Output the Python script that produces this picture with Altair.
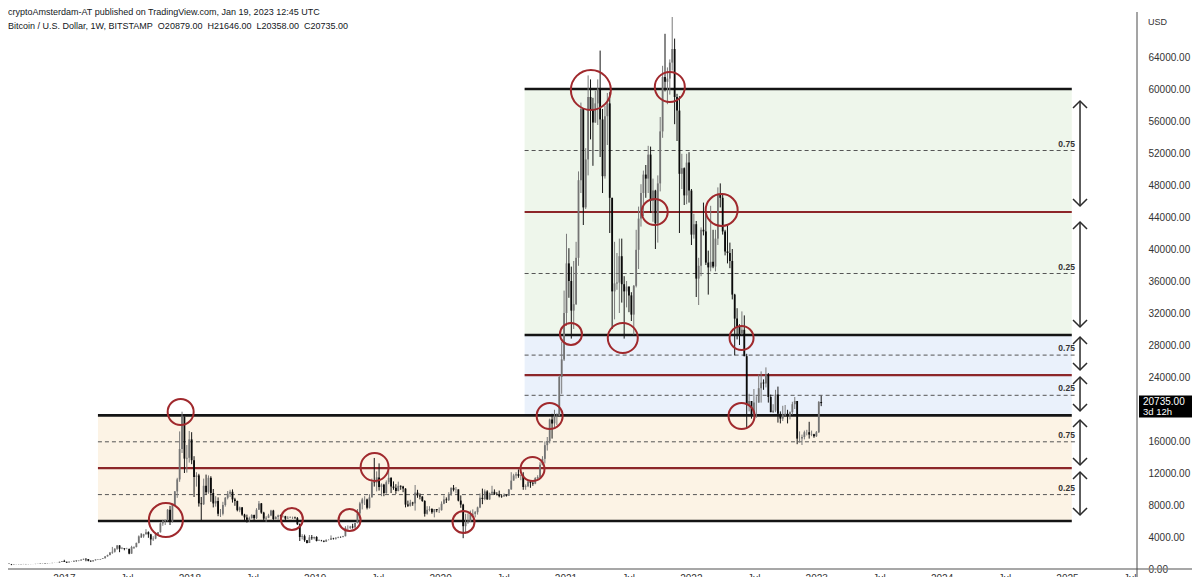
import altair as alt
import pandas as pd
from datetime import date, timedelta

# ---------------- data (weekly BTC/USD candles) ----------------
first_week = "2016-07-18"
first_open = 665

close_2016 = [655, 625, 590, 570, 580, 572, 608, 623, 608, 602, 612, 617, 640, 653, 700, 705, 703, 730, 735, 765, 770, 790, 900, 1000]
high_2016 = [680, 660, 630, 600, 595, 590, 615, 635, 628, 612, 615, 620, 642, 656, 720, 740, 740, 745, 748, 775, 775, 795, 920, 1000]
low_2016 = [645, 620, 480, 565, 565, 565, 570, 605, 600, 592, 598, 606, 615, 630, 650, 680, 690, 700, 720, 730, 750, 765, 790, 895]

close_2017 = [905, 820, 920, 920, 1030, 1000, 1050, 1180, 1270, 1230, 1020, 960, 1090, 1200, 1180, 1250, 1340, 1580, 1740, 2050,
              2150, 2530, 2950, 2530, 2590, 2500, 2510, 1920, 2760, 2740, 3260, 4080, 4070, 4350, 4600, 4330, 3700, 3800, 4340, 4600,
              5700, 6000, 6150, 7400, 5950, 8000, 9700, 11200, 15000, 19000, 13800, 13900]
high_2017 = [1150, 910, 925, 930, 1040, 1065, 1060, 1200, 1290, 1330, 1250, 1080, 1100, 1210, 1220, 1260, 1350, 1600, 1800, 2100,
             2760, 2600, 2980, 2970, 2760, 2600, 2650, 2550, 2900, 2800, 3300, 4200, 4450, 4400, 4980, 4700, 4400, 4100, 4380, 4620,
             5850, 6150, 6150, 7500, 7890, 8000, 9750, 11400, 17200, 19666, 19100, 15500]
low_2017 = [880, 750, 810, 880, 910, 920, 970, 1050, 1130, 970, 960, 890, 920, 1050, 1140, 1170, 1250, 1330, 1540, 1700,
            1900, 2050, 2400, 2100, 2470, 2340, 2470, 1840, 1900, 2550, 2700, 3200, 3900, 3900, 4300, 3900, 2970, 3500, 3720, 4150,
            4550, 5400, 5500, 5950, 5500, 5800, 7900, 8900, 10900, 14500, 12000, 12050]

close_2018 = [16200, 13600, 11500, 11700, 8200, 8100, 10400, 9600, 11400, 9500, 8200, 8500, 6900, 6900, 8000, 8900, 9400, 9650,
              8700, 8500, 7350, 7700, 6800, 6450, 6150, 6350, 6750, 6350, 7400, 8200, 7050, 6300, 6400, 6700, 7300, 6250, 6500,
              6700, 6600, 6600, 6300, 6400, 6450, 6450, 6350, 5600, 4000, 4100, 3600, 3250, 3950, 3850, 4000]
high_2018 = [17250, 17100, 14100, 12100, 11900, 9000, 11300, 11800, 11700, 11600, 10000, 9100, 8950, 7500, 8400, 9000, 9750, 9900,
             9950, 8900, 8550, 7800, 7750, 6900, 6800, 6550, 6850, 6800, 7600, 8500, 8250, 7150, 6600, 6900, 7400, 7400, 6600,
             6800, 6800, 6700, 6650, 6600, 6580, 6550, 6550, 6500, 5700, 4350, 4300, 3620, 4250, 4250, 4050]
low_2018 = [13300, 13100, 9000, 10300, 7800, 6000, 8000, 9300, 9400, 8400, 7700, 7800, 6600, 6500, 6700, 7800, 8700, 9000,
            8300, 7900, 7200, 7100, 6650, 6100, 5800, 5900, 6300, 6100, 6250, 7400, 6900, 5900, 5880, 6350, 6600, 6100, 6200,
            6150, 6250, 6450, 6100, 6300, 6350, 6250, 6300, 5500, 3500, 3700, 3400, 3200, 3250, 3650, 3700]

close_2019 = [3500, 3550, 3530, 3420, 3650, 3650, 3850, 3800, 3920, 4000, 3990, 4100, 5150, 5150, 5300, 5200, 5750, 6950, 8200,
              8700, 8700, 7650, 8950, 10850, 10800, 11450, 10250, 10550, 9500, 10850, 11400, 10300, 10150, 9750, 10400, 10300,
              10050, 8050, 7900, 8300, 8200, 9550, 9200, 9050, 8500, 6900, 7400, 7500, 7100, 7500, 7350, 7350]
high_2019 = [4100, 3700, 3640, 3560, 3700, 3720, 4200, 3900, 3950, 4050, 4070, 4150, 5350, 5450, 5400, 5650, 5800, 7500, 8400,
             8900, 9100, 8800, 9350, 11300, 13880, 12200, 13200, 10700, 10650, 11080, 12300, 11450, 10950, 10600, 10920, 10450,
             10400, 10100, 8550, 8650, 8400, 10500, 9900, 9450, 9100, 8600, 7850, 7850, 7600, 7500, 7500, 7700]
low_2019 = [3450, 3500, 3450, 3350, 3390, 3580, 3650, 3680, 3670, 3850, 3900, 3950, 4080, 4900, 5000, 5050, 5150, 5700, 6700,
            7450, 8000, 7450, 7550, 8950, 10300, 9700, 9800, 9100, 9100, 9400, 10600, 9500, 9900, 9400, 9700, 9900,
            9600, 7700, 7750, 7800, 7900, 7300, 8900, 8700, 8400, 6550, 6800, 7200, 6900, 6450, 7100, 7000]

close_2020 = [8150, 8700, 8600, 9350, 10150, 9900, 9950, 8550, 8050, 5350, 5850, 5900, 6800, 6900, 7100, 7700, 8900, 8750, 9700,
              8700, 9450, 9650, 9350, 9300, 9100, 9050, 9250, 9150, 9950, 11050, 11700, 11850, 11650, 11700, 10250, 10330, 10930,
              10770, 10670, 11370, 11500, 13030, 13770, 15480, 15970, 18680, 18200, 19150, 19150, 24000, 26200, 32000]
high_2020 = [8450, 9200, 8950, 9600, 10200, 10500, 10250, 9950, 9200, 8150, 6900, 6950, 7300, 7450, 7250, 7800, 9450, 10050, 9950,
             9850, 9550, 10400, 9950, 9600, 9800, 9350, 9450, 9350, 10000, 12100, 11900, 12100, 12450, 11800, 12100, 10580, 11150,
             10990, 10950, 11480, 11720, 13350, 14100, 15950, 16500, 18800, 19400, 19900, 19450, 24200, 28400, 34800]
low_2020 = [7300, 8100, 8250, 8500, 9150, 9700, 9450, 8450, 7650, 3850, 4400, 5650, 5900, 6750, 6450, 6800, 7600, 8100, 8600,
            8650, 8650, 9350, 9250, 9200, 8950, 8900, 9050, 9050, 9150, 9900, 11050, 11300, 11400, 11100, 9900, 9900, 10230,
            10150, 10400, 10600, 11200, 11380, 12950, 13200, 14800, 15700, 16300, 17600, 18000, 19100, 21900, 26000]

close_2021 = [38200, 36000, 32300, 33100, 38900, 48600, 57500, 45200, 51200, 59000, 57500, 55800, 58200, 60000, 56200, 49100,
              56600, 58200, 46400, 34700, 35700, 35800, 39100, 35600, 34700, 35300, 34200, 31800, 35400, 39900, 43800, 47000,
              49300, 48800, 51800, 46000, 47300, 43200, 48200, 54700, 61500, 60900, 61300, 63300, 65000, 59000, 57300, 49400,
              50100, 46700, 50800, 47300]
high_2021 = [41900, 40100, 37800, 38500, 40900, 49700, 58300, 57500, 52600, 61700, 61200, 58900, 59800, 61200, 64800, 57500,
             57900, 59500, 59600, 45800, 40900, 39500, 41300, 41300, 36600, 36000, 35300, 34600, 35500, 42400, 45300, 48100,
             49800, 50500, 52900, 52800, 48800, 47400, 49200, 56500, 62900, 66900, 62700, 63700, 69000, 66300, 59400, 59100,
             51900, 50200, 51900, 52100]
low_2021 = [30400, 33900, 28800, 30000, 33000, 37900, 47000, 43000, 45000, 49200, 53700, 50400, 55800, 55500, 51500, 47000,
            48800, 53000, 42000, 30000, 31200, 34900, 32000, 33300, 28800, 32700, 32100, 31000, 29300, 35200, 37500, 42800,
            44100, 46400, 47000, 44500, 43400, 40000, 40800, 47200, 53900, 59700, 58100, 59300, 62300, 55600, 53500, 42000,
            47500, 45500, 45600, 45800]

close_2022 = [41800, 43100, 36300, 37900, 42400, 42200, 38300, 37700, 38400, 37800, 41300, 46800, 46400, 42200, 39700, 39500,
              38500, 34300, 31300, 30300, 29400, 29900, 26600, 20500, 21000, 19300, 20800, 20800, 22600, 23300, 23200, 24300,
              21500, 19600, 19800, 21800, 19400, 18800, 19300, 19400, 19200, 19600, 20600, 21000, 16300, 16300, 16500, 17100,
              17100, 16800, 16850, 16600]
high_2022 = [47500, 44400, 43500, 38900, 42700, 45800, 44500, 39800, 45400, 42400, 42400, 47700, 48200, 47000, 42400, 42900,
             40800, 40000, 34400, 32600, 30600, 32200, 31700, 26900, 21900, 21000, 22500, 21600, 24300, 24700, 23700, 25200,
             24500, 21800, 20600, 22400, 22800, 19700, 20400, 20500, 19900, 19700, 20900, 21500, 21000, 17200, 16800, 17300,
             17400, 18400, 17300, 16900]
low_2022 = [40500, 41300, 34000, 33000, 36600, 41700, 38000, 34300, 37200, 37600, 37200, 40500, 45200, 41800, 39200, 38200,
            37600, 33700, 26700, 28700, 28000, 29300, 26600, 17600, 19700, 18800, 19000, 18900, 20800, 20800, 22400, 22700,
            20800, 19600, 19500, 19600, 18300, 18200, 18500, 19100, 18200, 18700, 19300, 20000, 15600, 15800, 15500, 16200,
            16700, 16300, 16600, 16400]

close_2023 = [17100, 20879, 20735]
high_2023 = [17250, 21000, 21646]
low_2023 = [16500, 17000, 20358]

closes = close_2016 + close_2017 + close_2018 + close_2019 + close_2020 + close_2021 + close_2022 + close_2023
highs = high_2016 + high_2017 + high_2018 + high_2019 + high_2020 + high_2021 + high_2022 + high_2023
lows = low_2016 + low_2017 + low_2018 + low_2019 + low_2020 + low_2021 + low_2022 + low_2023

# support / resistance structure
level_price = [6000, 12600, 19200, 24225, 29250, 44625, 60000]
level_start = ["2017-04-10", "2017-04-10", "2017-04-10", "2020-09-04", "2020-09-04", "2020-09-04", "2020-09-04"]
level_kind = ["main", "mid", "main", "mid", "main", "mid", "main"]
box_low = [6000, 19200, 29250]
box_high = [19200, 29250, 60000]
box_start = ["2017-04-10", "2020-09-04", "2020-09-04"]
box_fill = ["#fcf3e5", "#eaf1fb", "#eef6eb"]
box_end = "2025-01-15"
fib_price = [9300, 15900, 21712, 26737, 36937, 52312]
fib_label = ["0.25", "0.75", "0.25", "0.75", "0.25", "0.75"]
fib_start = ["2017-04-10", "2017-04-10", "2020-09-04", "2020-09-04", "2020-09-04", "2020-09-04"]
fib_end = "2025-01-29"
fib_label_at = "2025-01-24"

circle_date = ["2017-10-25", "2017-12-07", "2018-10-27", "2019-04-13", "2019-06-25", "2020-03-10", "2020-09-27",
               "2020-11-16", "2021-01-17", "2021-03-16", "2021-06-17", "2021-09-18", "2021-11-01", "2022-04-01",
               "2022-05-29", "2022-05-29"]
circle_price = [6125, 19625, 6250, 6125, 12750, 5875, 12500, 19125, 29375, 59875, 28875, 44625, 60250, 44875, 28875, 19125]
circle_radius = [17, 13, 11, 11, 14, 11, 12, 13, 11, 20, 15, 13, 15, 16, 12, 13]

arrow_date = "2025-02-08"
arrow_top = [58500, 43375, 29000, 24000, 18625, 12125]
arrow_bottom = [45375, 30250, 24875, 19750, 13000, 6750]

y_ticks = [0, 4000, 8000, 12000, 16000, 24000, 28000, 32000, 36000, 40000, 44000, 48000, 52000, 56000, 60000, 64000]
x_tick_years = [2017, 2018, 2019, 2020, 2021, 2022, 2023, 2024, 2025]
last_price = [20735]
last_price_note = ["3d 12h"]

header_1 = "cryptoAmsterdam-AT published on TradingView.com, Jan 19, 2023 12:45 UTC"
header_2 = "Bitcoin / U.S. Dollar, 1W, BITSTAMP\u00a0\u00a0O20879.00\u00a0\u00a0H21646.00\u00a0\u00a0L20358.00\u00a0\u00a0C20735.00"

# ---------------- build tables ----------------
def yr(d):
    if isinstance(d, str):
        d = date.fromisoformat(d)
    return 2017 + (d - date(2017, 1, 1)).days / 365.25

start = date.fromisoformat(first_week)
rows = []
prev = first_open
for i, (c, h, l) in enumerate(zip(closes, highs, lows)):
    o = prev
    up = c >= o
    rows.append(dict(t=yr(start + timedelta(days=7 * i)), open=o, close=c,
                     high=max(h, o, c), low=min(l, o, c),
                     body="#747474" if up else "#0a0a0a",
                     wick="#7a7a7a" if up else "#151515"))
    prev = c
candles = pd.DataFrame(rows)

boxes = pd.DataFrame(dict(x0=[yr(s) for s in box_start], x1=yr(box_end), lo=box_low, hi=box_high, fill=box_fill))
levels = pd.DataFrame(dict(x0=[yr(s) for s in level_start], x1=yr(box_end), p=level_price,
                           col=["#141414" if k == "main" else "#8c2629" for k in level_kind],
                           w=[2.6 if k == "main" else 2.2 for k in level_kind]))
fibs = pd.DataFrame(dict(x0=[yr(s) for s in fib_start], x1=yr(fib_end), xl=yr(fib_label_at), p=fib_price, lab=fib_label))
circles = pd.DataFrame(dict(t=[yr(d) for d in circle_date], p=circle_price, s=[(2 * r) ** 2 for r in circle_radius]))
arrows = pd.DataFrame(dict(t=yr(arrow_date), top=arrow_top, bot=arrow_bottom))
lastp = pd.DataFrame(dict(p=last_price, note=last_price_note))
one = pd.DataFrame(dict(zero=[0]))

W, H = 1129, 554
FONT = "Liberation Sans"
xs = alt.Scale(domain=[yr("2016-07-22"), yr("2025-07-24")], nice=False, zero=False)
ys = alt.Scale(domain=[0, 69250], nice=False, zero=False)

x_vals = []
for y in x_tick_years:
    x_vals += [y, y + 0.5]
xaxis = alt.Axis(values=x_vals, labelExpr="datum.value % 1 == 0 ? format(datum.value, 'd') : 'Jul'",
                 title=None, domain=False, ticks=False, grid=False, labelPadding=4, labelFontSize=10,
                 labelColor="#333333", labelFont=FONT, labelFlush=False, labelOverlap=False)
yaxis = alt.Axis(orient="right", values=y_ticks, format=".2f", title=None, domain=False, ticks=False, grid=False,
                 labelPadding=11, labelFontSize=10, labelColor="#333333", labelFont=FONT, labelAlign="left",
                 labelFlush=False, labelOverlap=False)


def X(f):
    return alt.X(f, type="quantitative", scale=xs, axis=xaxis)


def Y(f):
    return alt.Y(f, type="quantitative", scale=ys, axis=yaxis)


box_layer = alt.Chart(boxes).mark_rect().encode(x=X("x0"), x2="x1", y=Y("lo"), y2="hi",
                                                color=alt.Color("fill:N", scale=None))
fib_layer = alt.Chart(fibs).mark_rule(strokeDash=[4, 3], color="#555555", strokeWidth=1).encode(
    x=X("x0"), x2="x1", y=Y("p"))
fib_text = alt.Chart(fibs).mark_text(align="right", baseline="bottom", dy=-2, fontSize=8.5, fontWeight="bold",
                                     color="#333333", font=FONT).encode(x=X("xl"), y=Y("p"), text="lab:N")
level_layer = alt.Chart(levels).mark_rule().encode(x=X("x0"), x2="x1", y=Y("p"),
                                                   color=alt.Color("col:N", scale=None),
                                                   strokeWidth=alt.StrokeWidth("w:Q", scale=None))
wick_layer = alt.Chart(candles).mark_rule(clip=True, strokeWidth=1).encode(
    x=X("t"), y=Y("low"), y2="high", color=alt.Color("wick:N", scale=None))
body_layer = alt.Chart(candles).mark_rule(clip=True, strokeWidth=1.8).encode(
    x=X("t"), y=Y("open"), y2="close", color=alt.Color("body:N", scale=None))
circle_layer = alt.Chart(circles).mark_point(shape="circle", filled=False, strokeWidth=2, color="#a0292d",
                                             opacity=1).encode(x=X("t"), y=Y("p"), size=alt.Size("s:Q", scale=None))
arrow_layer = alt.Chart(arrows).mark_rule(color="#2b2b2b", strokeWidth=1.5).encode(x=X("t"), y=Y("top"), y2="bot")
head_up = alt.Chart(arrows).mark_point(shape="M-1,1L0,0L1,1", size=196, filled=False, strokeWidth=1.5,
                                       color="#2b2b2b", opacity=1).encode(x=X("t"), y=Y("top"))
head_dn = alt.Chart(arrows).mark_point(shape="M-1,-1L0,0L1,-1", size=196, filled=False, strokeWidth=1.5,
                                       color="#2b2b2b", opacity=1).encode(x=X("t"), y=Y("bot"))

bottom_line = alt.Chart(one).mark_rule(color="#8a8a8a", strokeWidth=1.5).encode(
    x=alt.value(0), x2=alt.value(W + 55), y=Y("zero"))
right_line = alt.Chart(one).mark_rule(color="#4a4a4a", strokeWidth=1).encode(
    x=alt.value(W), y=alt.value(-3), y2=alt.value(H + 20))

price_box = alt.Chart(lastp).mark_point(shape="M-1,-0.415L1,-0.415L1,0.415L-1,0.415Z", size=53 * 53, filled=True,
                                        color="#000000", opacity=1, yOffset=3.5).encode(
    x=alt.value(W + 28.5), y=Y("p"))
price_txt = alt.Chart(lastp).mark_text(align="left", baseline="middle", dy=-1, fontSize=10, color="#ffffff",
                                       font=FONT).encode(x=alt.value(W + 6), y=Y("p"),
                                                         text=alt.Text("p:Q", format=".2f"))
note_txt = alt.Chart(lastp).mark_text(align="left", baseline="middle", dy=9, fontSize=9.5, color="#ffffff",
                                      font=FONT).encode(x=alt.value(W + 6), y=Y("p"), text="note:N")

usd_txt = alt.Chart(one).mark_text(align="left", baseline="middle", fontSize=9, color="#333333", font=FONT).encode(
    x=alt.value(W + 11), y=alt.value(7), text=alt.value("USD"))
head1 = alt.Chart(one).mark_text(align="left", baseline="top", fontSize=9, color="#131722", font=FONT).encode(
    x=alt.value(0), y=alt.value(-7), text=alt.value(header_1))
head2 = alt.Chart(one).mark_text(align="left", baseline="middle", fontSize=9, color="#131722", font=FONT).encode(
    x=alt.value(0), y=alt.value(11), text=alt.value(header_2))

chart = alt.layer(
    box_layer, fib_layer, level_layer, wick_layer, body_layer, circle_layer, fib_text,
    arrow_layer, head_up, head_dn, bottom_line, right_line, price_box, price_txt, note_txt,
    usd_txt, head1, head2
).properties(
    width=W, height=H,
    padding={"left": 0, "top": 7, "right": 55, "bottom": 8},
    autosize=alt.AutoSizeParams(type="none"),
    background="#ffffff",
).configure_view(stroke=None)

chart.save("out.html", embed_options={"renderer": "svg", "actions": False})
